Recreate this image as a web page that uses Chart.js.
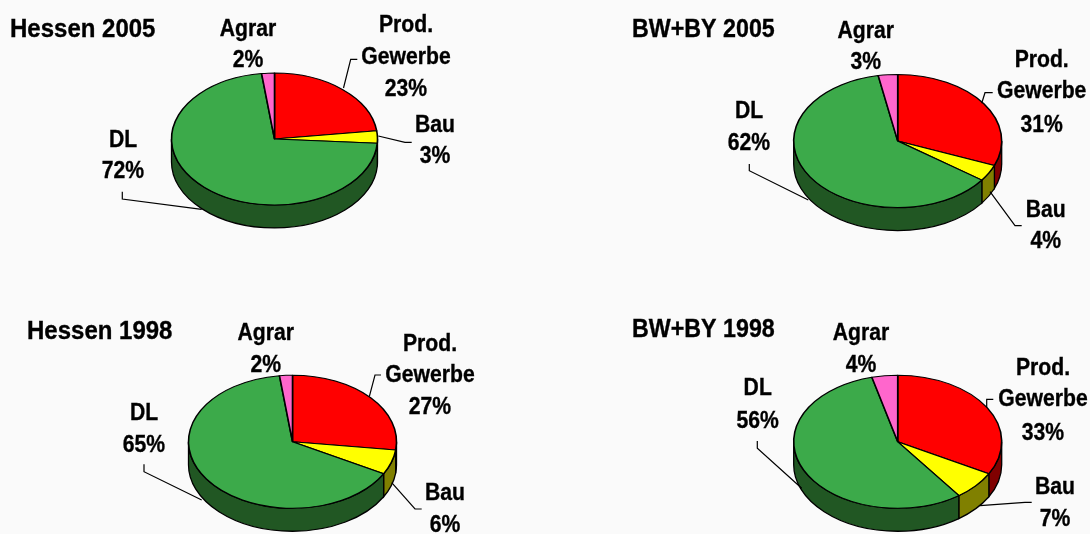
<!DOCTYPE html>
<html><head><meta charset="utf-8">
<style>
html,body{margin:0;padding:0;background:#fafafa;width:1090px;height:534px;overflow:hidden}
canvas{position:absolute;display:block}
</style>
<script src="https://cdn.jsdelivr.net/npm/chart.js@4"></script>
</head><body>
<script>
// ---------- data ----------
const categories = ['Prod. Gewerbe', 'Bau', 'DL', 'Agrar'];
const hessen2005 = [23, 3, 72, 2];
const bwby2005   = [31, 4, 62, 3];
const hessen1998 = [27, 6, 65, 2];
const bwby1998   = [33, 7, 56, 4];
const titles = ['Hessen 2005', 'BW+BY 2005', 'Hessen 1998', 'BW+BY 1998'];

// ---------- styling ----------
const topColors  = ['#ff0000', '#ffff00', '#3caa4a', '#ff66cc'];
const wallColors = ['#800000', '#808000', '#215723', '#80336a'];
const Y_SCALE = 0.64, DEPTH = 23;
const FONT = '"Liberation Sans", Arial, sans-serif';

// Layout: pie centre, canvas box, text anchors and leader lines (page pixels)
const panels = [
 { values: hessen2005, title: titles[0], box:[0,0,545,267], cx:274.5, cy:139, rx:103, titleAt:[10,30], titleSx:0.96,
   text:{ prod:[406,26,58,90], bau:[435,126,157], dl:[123,141,172], agrar:[248,30,61] },
   lines:[[[343.5,88],[350.7,59.3],[357.3,59.3]], [[378.3,136],[405,142.3],[411.7,142.3]], [[201.7,209.3],[122.3,199],[122.3,191.7]]] },
 { values: bwby2005, title: titles[1], box:[545,0,545,267], cx:897.7, cy:141, rx:104, titleAt:[632,30], titleSx:0.93,
   text:{ prod:[1041.7,61,92,126], bau:[1045.7,211,242], dl:[749,112,144], agrar:[865.7,32,63] },
   lines:[[[981.7,103.3],[985,92.7],[992.7,92.7]], [[990,191.7],[1015,225.7],[1021.7,225.7]], [[808.3,200],[749.3,170.7],[749.3,164]]] },
 { values: hessen1998, title: titles[2], box:[0,267,545,267], cx:292.5, cy:441.7, rx:104, titleAt:[27,332], titleSx:0.96,
   text:{ prod:[430,345,376,408], bau:[445,494,526], dl:[144,414,446], agrar:[265.7,334,366] },
   lines:[[[369.3,396.7],[375,375],[381,375]], [[391.7,482.7],[415,509],[421.7,509]], [[201.7,500],[144,471.7],[144,464.3]]] },
 { values: bwby1998, title: titles[3], box:[545,267,545,267], cx:897.7, cy:441.7, rx:104, titleAt:[632,330], titleSx:0.93,
   text:{ prod:[1043,369,400,434], bau:[1055,488,520], dl:[757.7,389,422], agrar:[861,334,366] },
   lines:[[[986.7,407.3],[986.7,399.3],[993.3,399.3]], [[980,505.7],[1025,502.3],[1031.7,502.3]], [[801.7,488.3],[757.3,448.3],[757.3,441]]] }
];

function drawText(ctx, str, x, y, px, sx, align) {
  ctx.save();
  ctx.translate(x, y);
  ctx.scale(sx, 1);
  ctx.font = 'bold ' + px + 'px ' + FONT;
  ctx.fillStyle = '#000';
  ctx.strokeStyle = '#000';
  ctx.lineWidth = 0.35;
  ctx.textAlign = align;
  ctx.textBaseline = 'middle';
  ctx.fillText(str, 0, 0);
  ctx.strokeText(str, 0, 0);
  ctx.restore();
}

const pie3d = {
  id: 'pie3d',
  beforeDatasetsDraw(chart, args, opts) {
    const ctx = chart.ctx, arcs = chart.getDatasetMeta(0).data;
    const cx = arcs[0].x, cy = arcs[0].y, r = arcs[0].outerRadius, ry = r * Y_SCALE;
    // side wall, taken from the library's arc angles
    arcs.forEach((arc, i) => {
      const a0 = Math.max(arc.startAngle, 0), a1 = Math.min(arc.endAngle, Math.PI);
      if (a1 <= a0) return;
      ctx.beginPath();
      ctx.ellipse(cx, cy, r, ry, 0, a0, a1);
      ctx.ellipse(cx, cy + DEPTH, r, ry, 0, a1, a0, true);
      ctx.closePath();
      ctx.fillStyle = wallColors[i];
      ctx.fill();
      ctx.lineWidth = 1.3; ctx.strokeStyle = '#000';
      ctx.stroke();
    });
    // flatten the top face into an ellipse
    ctx.save();
    ctx.translate(cx, cy); ctx.scale(1, Y_SCALE); ctx.translate(-cx, -cy);
  },
  afterDatasetsDraw(chart) { chart.ctx.restore(); },
  afterDraw(chart, args, opts) {
    const ctx = chart.ctx, p = opts.panel, v = p.values;
    ctx.save();
    ctx.translate(-p.box[0], -p.box[1]);
    ctx.strokeStyle = '#000'; ctx.lineWidth = 1.2;
    p.lines.forEach(l => {
      ctx.beginPath();
      l.forEach((q, i) => i ? ctx.lineTo(q[0], q[1]) : ctx.moveTo(q[0], q[1]));
      ctx.stroke();
    });
    drawText(ctx, p.title, p.titleAt[0], p.titleAt[1], 25, p.titleSx, 'left');
    const L = 23.5, S = 0.9, t = p.text;
    const [prod, gew] = categories[0].split(' ');
    drawText(ctx, prod, t.prod[0], t.prod[1], L, S, 'center');
    drawText(ctx, gew, t.prod[0], t.prod[2], L, S, 'center');
    drawText(ctx, v[0] + '%', t.prod[0], t.prod[3], L, S, 'center');
    drawText(ctx, categories[1], t.bau[0], t.bau[1], L, S, 'center');
    drawText(ctx, v[1] + '%', t.bau[0], t.bau[2], L, S, 'center');
    drawText(ctx, categories[2], t.dl[0], t.dl[1], L, S, 'center');
    drawText(ctx, v[2] + '%', t.dl[0], t.dl[2], L, S, 'center');
    drawText(ctx, categories[3], t.agrar[0], t.agrar[1], L, S, 'center');
    drawText(ctx, v[3] + '%', t.agrar[0], t.agrar[2], L, S, 'center');
    ctx.restore();
  }
};

panels.forEach(p => {
  const [bx, by, bw, bh] = p.box;
  const c = document.createElement('canvas');
  c.width = bw; c.height = bh;
  c.style.left = bx + 'px'; c.style.top = by + 'px';
  c.style.width = bw + 'px'; c.style.height = bh + 'px';
  document.body.appendChild(c);
  const lx = p.cx - bx, ly = p.cy - by;
  new Chart(c, {
    type: 'pie',
    data: { labels: categories, datasets: [{
      data: p.values, backgroundColor: topColors, borderColor: '#000',
      borderWidth: 1.6, borderJoinStyle: 'round', radius: p.rx, clip: false
    }]},
    plugins: [pie3d],
    options: {
      responsive: false, animation: false, devicePixelRatio: 1,
      layout: { padding: {
        left: Math.max(2 * lx - bw, 0), right: Math.max(bw - 2 * lx, 0),
        top: Math.max(2 * ly - bh, 0), bottom: Math.max(bh - 2 * ly, 0)
      }},
      plugins: { legend: { display: false }, tooltip: { enabled: false }, pie3d: { panel: p } }
    }
  });
});
</script>
</body></html>
